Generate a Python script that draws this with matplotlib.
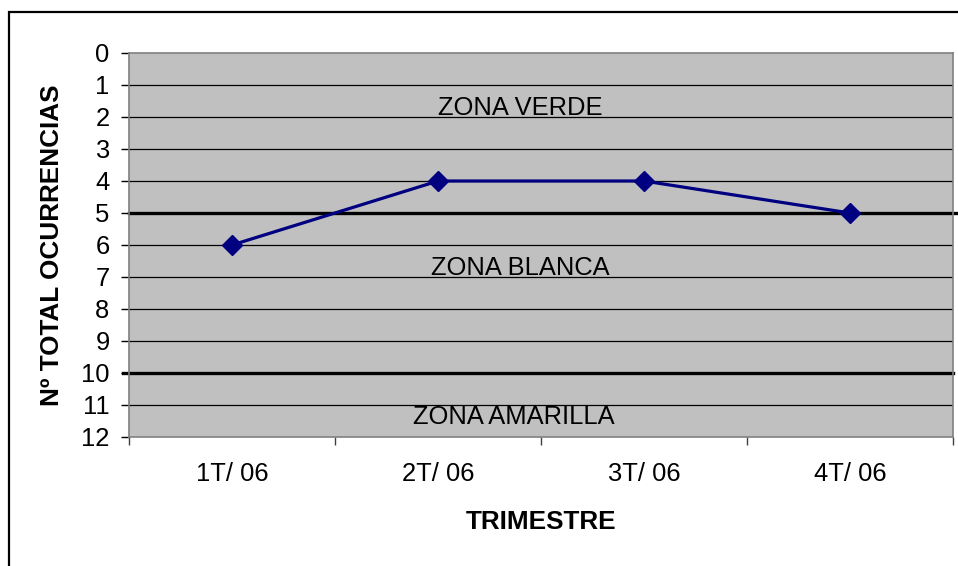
import matplotlib
matplotlib.use("Agg")
import matplotlib.pyplot as plt
from matplotlib.patches import Rectangle

plt.rcParams['font.family'] = ['Liberation Sans', 'DejaVu Sans']

categories = ["1T/ 06", "2T/ 06", "3T/ 06", "4T/ 06"]
values = [6, 4, 4, 5]
y_ticks = list(range(0, 13))
zone_limits = [5, 10]
zone_labels = ["ZONA VERDE", "ZONA BLANCA", "ZONA AMARILLA"]
zone_label_pos = [(1.40, 1.72), (1.40, 6.72), (1.37, 11.37)]

W, H = 958, 566
FS = 18.4
fig = plt.figure(figsize=(W / 100, H / 100), dpi=100)
fig.patch.set_facecolor('white')

# outer chart border
fig.add_artist(Rectangle((9 / W, -0.1), 1.2, 1 - 12 / H + 0.1, transform=fig.transFigure,
                         fill=False, edgecolor='black', linewidth=1.6))

ax = fig.add_axes([129 / W, 1 - 437 / H, (953 - 129) / W, (437 - 53) / H])
ax.set_facecolor('#C0C0C0')

x = list(range(len(categories)))
ax.set_xlim(-0.5, len(categories) - 0.5)
ax.set_ylim(12, 0)

# gridlines
for yv in y_ticks[1:-1]:
    if yv not in zone_limits:
        ax.axhline(yv, color='black', linewidth=0.9, zorder=1)

# zone limit lines
ax.plot([-0.5, 3.525], [zone_limits[0]] * 2, color='black', linewidth=2.4, clip_on=False, zorder=2)
ax.plot([-0.53, 3.5], [zone_limits[1]] * 2, color='black', linewidth=2.4, clip_on=False, zorder=2)

ax.plot(x, values, color='#000080', linewidth=2.3, marker='D', markersize=10,
        markerfacecolor='#000080', markeredgecolor='#000080', zorder=3)

for lab, (px, py) in zip(zone_labels, zone_label_pos):
    ax.text(px, py, lab, ha='center', va='center', fontsize=FS, color='black', zorder=4)

ax.set_yticks(y_ticks)
ax.set_yticklabels([str(v) for v in y_ticks], fontsize=FS)
ax.tick_params(axis='y', direction='out', length=6, width=1, color='black', pad=8)

ax.set_xticks([i - 0.5 for i in range(len(categories) + 1)])
ax.set_xticklabels([])
ax.set_xticks(x, minor=True)
ax.set_xticklabels(categories, minor=True, fontsize=FS)
ax.tick_params(axis='x', which='major', direction='out', length=6, width=1, color='#404040')
ax.tick_params(axis='x', which='minor', length=0, pad=18)

for s in ax.spines.values():
    s.set_color('#808080')
    s.set_linewidth(1.2)

fig.text(52 / W, 1 - 245 / H, "Nº TOTAL OCURRENCIAS", rotation=90, ha='center', va='center',
         fontsize=FS + 0.4, fontweight='bold')
fig.text(541 / W, 1 - 522 / H, "TRIMESTRE", ha='center', va='center',
         fontsize=FS + 0.4, fontweight='bold')

fig.savefig("out.png", dpi=100)
